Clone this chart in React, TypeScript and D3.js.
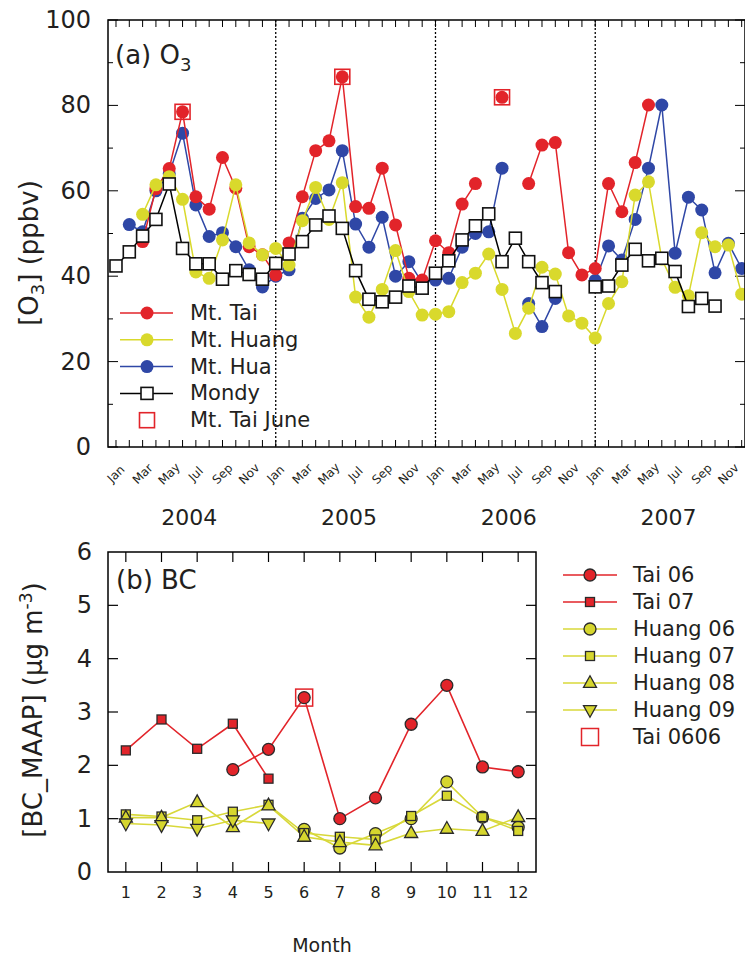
import React from "react";
import * as d3 from "d3";

// ---------- Panel (a): monthly O3, Jan 2004 – Dec 2007 ----------
const monthNames = ["Jan", "Feb", "Mar", "Apr", "May", "Jun", "Jul", "Aug", "Sep", "Oct", "Nov", "Dec"];
const years = ["2004", "2005", "2006", "2007"];

const taiO3: (number | null)[] = [
  null, null, 48.1, 60.5, 65.2, 78.5, 58.6, 55.7, 67.8, 60.6, 46.9, 45.0,
  40.3, 47.8, 58.6, 69.4, 71.7, 86.7, 56.3, 55.9, 65.3, 52.0, 39.5, 39.1,
  48.3, 45.5, 56.9, 61.7, null, 81.9, null, 61.7, 70.7, 71.3, 45.5, 40.3,
  41.8, 61.7, 55.1, 66.6, 80.1, null, null, null, null, null, null, null,
];
const huangO3: (number | null)[] = [
  null, null, 54.5, 61.4, 63.3, 58.0, 41.0, 39.5, 48.5, 61.4, 47.8, 45.0,
  46.5, 42.6, 53.0, 60.8, 53.3, 61.9, 35.1, 30.4, 36.9, 46.0, 36.4, 30.9,
  31.1, 31.7, 38.5, 40.7, 45.2, 36.9, 26.6, 32.5, 42.1, 40.5, 30.7, 29.0,
  25.5, 33.6, 38.7, 59.0, 62.1, 44.0, 37.4, 35.4, 50.2, 46.9, 47.3, 35.8,
];
const huaO3: (number | null)[] = [
  null, 52.1, 50.4, 60.0, 64.0, 73.5, 56.7, 49.3, 50.2, 46.9, 41.5, 37.5,
  40.0, 41.5, 53.6, 58.2, 60.2, 69.4, 52.2, 46.8, 53.8, 40.0, 43.4, 38.5,
  39.1, 39.5, 46.8, 50.0, 50.4, 65.3, null, 33.6, 28.2, 34.8, null, null,
  39.0, 47.1, 43.8, 53.3, 65.3, 80.1, 45.4, 58.5, 55.5, 40.8, 47.7, 41.8,
];
const mondyO3: (number | null)[] = [
  42.4, 45.7, 49.4, 53.3, 61.6, 46.5, 42.9, 42.9, 39.3, 41.3, 40.4, 39.3,
  43.0, 45.2, 48.1, 52.0, 54.1, 51.2, 41.3, 34.6, 34.0, 35.1, 37.7, 37.2,
  40.7, 43.6, 48.5, 51.8, 54.6, 43.4, 48.9, 43.4, 38.5, 36.4, null, null,
  37.5, 37.7, 42.6, 46.3, 43.6, 44.2, 41.1, 32.9, 34.8, 33.0, null, null,
];
// Month indices (0 = Jan 2004) of the Mt. Tai June values
const taiJuneIdx = [5, 17, 29];

// ---------- Panel (b): monthly BC ----------
const bcMonths = [1, 2, 3, 4, 5, 6, 7, 8, 9, 10, 11, 12];
const tai06: (number | null)[] = [null, null, null, 1.92, 2.30, 3.27, 1.00, 1.39, 2.77, 3.50, 1.97, 1.88];
const tai07: (number | null)[] = [2.28, 2.86, 2.31, 2.78, 1.75, null, null, null, null, null, null, null];
const huang06: (number | null)[] = [null, null, null, null, null, 0.80, 0.45, 0.72, 1.00, 1.69, 1.03, 0.84];
const huang07: (number | null)[] = [1.08, 1.04, 0.97, 1.13, 1.26, 0.73, 0.66, 0.61, 1.05, 1.43, 1.03, 0.77];
const huang08: (number | null)[] = [1.02, 1.02, 1.31, 0.84, 1.25, 0.66, 0.56, 0.50, 0.73, 0.81, 0.77, 1.03];
const huang09: (number | null)[] = [0.91, 0.88, 0.81, 0.97, 0.91, null, null, null, null, null, null, null];
const tai0606Month = 6;

const RED = "#e2242a";
const YEL = "#d9d92c";
const BLUE = "#2f47a6";
const INK = "#231f20";
const FONT = "'DejaVu Sans', Verdana, sans-serif";

type Marker = "circle" | "square" | "up" | "down";

function markerPath(kind: Marker, cx: number, cy: number, s: number): string {
  const h = s * 0.9;
  if (kind === "up") {
    return `M${cx},${cy - h * 0.62}L${cx + s / 2},${cy + h * 0.38}L${cx - s / 2},${cy + h * 0.38}Z`;
  }
  return `M${cx},${cy + h * 0.62}L${cx + s / 2},${cy - h * 0.38}L${cx - s / 2},${cy - h * 0.38}Z`;
}

function Mark({ kind, cx, cy, fill, stroke, size, sw }: { kind: Marker; cx: number; cy: number; fill: string; stroke: string; size: number; sw: number }) {
  if (kind === "circle") return <circle cx={cx} cy={cy} r={size / 2} fill={fill} stroke={stroke} strokeWidth={sw} />;
  if (kind === "square")
    return <rect x={cx - size / 2} y={cy - size / 2} width={size} height={size} fill={fill} stroke={stroke} strokeWidth={sw} />;
  return <path d={markerPath(kind, cx, cy, size)} fill={fill} stroke={stroke} strokeWidth={sw} strokeLinejoin="miter" />;
}

export default function App() {
  // ----- panel (a) scales -----
  const L = 108, R = 745, T = 20, B = 447;
  const x = d3.scaleLinear().domain([-0.6, 47.25]).range([L, R]);
  const y = d3.scaleLinear().domain([0, 100]).range([B, T]);
  const lineA = d3
    .line<number | null>()
    .defined((d) => d != null)
    .x((_, i) => x(i))
    .y((d) => y(d as number));

  const monthIdx = d3.range(48);
  const majorY = d3.range(0, 101, 20);
  const minorY = d3.range(10, 100, 20);

  const seriesA = [
    { name: "Mt. Hua", data: huaO3, color: BLUE },
    { name: "Mt. Tai", data: taiO3, color: RED },
    { name: "Mt. Huang", data: huangO3, color: YEL },
  ];

  const legendA = [
    { name: "Mt. Tai", color: RED, kind: "dot" },
    { name: "Mt. Huang", color: YEL, kind: "dot" },
    { name: "Mt. Hua", color: BLUE, kind: "dot" },
    { name: "Mondy", color: "#000", kind: "mondy" },
    { name: "Mt. Tai June", color: RED, kind: "box" },
  ];

  // ----- panel (b) scales -----
  const L2 = 108, R2 = 536, T2 = 552, B2 = 872;
  const xb = d3.scaleLinear().domain([0.5, 12.5]).range([L2, R2]);
  const yb = d3.scaleLinear().domain([0, 6]).range([B2, T2]);
  const lineB = d3
    .line<number | null>()
    .defined((d) => d != null)
    .x((_, i) => xb(bcMonths[i]))
    .y((d) => yb(d as number));

  const seriesB: { name: string; data: (number | null)[]; line: string; fill: string; kind: Marker; size: number }[] = [
    { name: "Huang 06", data: huang06, line: "#d8d83a", fill: "#d6d62e", kind: "circle", size: 12 },
    { name: "Huang 07", data: huang07, line: "#d8d83a", fill: "#d6d62e", kind: "square", size: 9 },
    { name: "Huang 08", data: huang08, line: "#d8d83a", fill: "#d6d62e", kind: "up", size: 13 },
    { name: "Huang 09", data: huang09, line: "#d8d83a", fill: "#d6d62e", kind: "down", size: 13 },
    { name: "Tai 06", data: tai06, line: RED, fill: RED, kind: "circle", size: 12 },
    { name: "Tai 07", data: tai07, line: RED, fill: RED, kind: "square", size: 9 },
  ];
  const legendOrder = ["Tai 06", "Tai 07", "Huang 06", "Huang 07", "Huang 08", "Huang 09"];

  return (
    <div style={{ position: "absolute", left: 0, top: 0 }}>
      <svg width={745} height={955} style={{ display: "block", background: "#fff" }} fontFamily={FONT}>
        {/* ================= Panel (a) ================= */}
        <g>
          {/* year separators */}
          {[12, 24, 36].map((i) => (
            <line key={i} x1={x(i)} x2={x(i)} y1={T} y2={B} stroke="#000" strokeWidth={1.3} strokeDasharray="2,2" />
          ))}

          {/* month ticks top and bottom */}
          {monthIdx.map((i) => (
            <g key={i}>
              <line x1={x(i)} x2={x(i)} y1={B} y2={B - 7} stroke="#000" strokeWidth={1} />
              <line x1={x(i)} x2={x(i)} y1={T} y2={T + 7} stroke="#000" strokeWidth={1} />
            </g>
          ))}
          {/* y ticks left and right */}
          {majorY.map((v) => (
            <g key={v}>
              <line x1={L} x2={L + 10} y1={y(v)} y2={y(v)} stroke="#000" strokeWidth={1} />
              <line x1={R} x2={R - 10} y1={y(v)} y2={y(v)} stroke="#000" strokeWidth={1} />
              <text x={91} y={y(v)} textAnchor="end" dominantBaseline="central" fontSize={24} fill={INK}>
                {v}
              </text>
            </g>
          ))}
          {minorY.map((v) => (
            <g key={v}>
              <line x1={L} x2={L + 5} y1={y(v)} y2={y(v)} stroke="#000" strokeWidth={1} />
              <line x1={R} x2={R - 5} y1={y(v)} y2={y(v)} stroke="#000" strokeWidth={1} />
            </g>
          ))}

          {/* month labels */}
          {monthIdx
            .filter((i) => i % 2 === 0)
            .map((i) => (
              <text
                key={i}
                transform={`translate(${x(i)},${474}) rotate(-45)`}
                textAnchor="middle"
                dominantBaseline="central"
                fontSize={12}
                fill={INK}
              >
                {monthNames[i % 12]}
              </text>
            ))}
          {years.map((yr, k) => (
            <text key={yr} x={x(5.5 + 12 * k)} y={525} textAnchor="middle" fontSize={22} fill={INK}>
              {yr}
            </text>
          ))}

          {/* series */}
          {seriesA.map((s) => (
            <g key={s.name}>
              <path d={lineA(s.data) || ""} fill="none" stroke={s.color} strokeWidth={1.5} />
              {s.data.map((d, i) =>
                d == null ? null : <circle key={i} cx={x(i)} cy={y(d)} r={6.5} fill={s.color} />
              )}
            </g>
          ))}
          <g>
            <path d={lineA(mondyO3) || ""} fill="none" stroke="#000" strokeWidth={1.5} />
            {mondyO3.map((d, i) =>
              d == null ? null : (
                <rect key={i} x={x(i) - 6} y={y(d) - 6} width={12} height={12} fill="#fff" stroke="#111" strokeWidth={1.6} />
              )
            )}
          </g>
          {taiJuneIdx.map((i) => (
            <rect
              key={i}
              x={x(i) - 7.5}
              y={y(taiO3[i] as number) - 7.5}
              width={15}
              height={15}
              fill="none"
              stroke={RED}
              strokeWidth={1.6}
            />
          ))}

          {/* title */}
          <text x={115} y={64} fontSize={26} fill={INK}>
            (a) O<tspan dy={7} fontSize={18}>3</tspan>
          </text>

          {/* legend */}
          {legendA.map((g, k) => {
            const ly = 313 + k * 26.8;
            return (
              <g key={g.name}>
                {g.kind !== "box" && <line x1={120} x2={173} y1={ly} y2={ly} stroke={g.color} strokeWidth={1.5} />}
                {g.kind === "dot" && <circle cx={147} cy={ly} r={6.5} fill={g.color} />}
                {g.kind === "mondy" && (
                  <rect x={141} y={ly - 6} width={12} height={12} fill="#fff" stroke="#111" strokeWidth={1.6} />
                )}
                {g.kind === "box" && (
                  <rect x={139.5} y={ly - 7.5} width={15} height={15} fill="none" stroke={RED} strokeWidth={1.6} />
                )}
                <text x={190} y={ly} dominantBaseline="central" fontSize={21} fill={INK}>
                  {g.name}
                </text>
              </g>
            );
          })}

          {/* y label */}
          <text transform={`translate(38,253) rotate(-90)`} textAnchor="middle" fontSize={26} fill={INK}>
            [O<tspan dy={6} fontSize={18}>3</tspan>
            <tspan dy={-6}>] (ppbv)</tspan>
          </text>

          <rect x={L} y={T} width={R - L} height={B - T} fill="none" stroke="#000" strokeWidth={1.5} />
        </g>

        {/* ================= Panel (b) ================= */}
        <g>
          {bcMonths.map((m) => (
            <g key={m}>
              <line x1={xb(m)} x2={xb(m)} y1={B2} y2={B2 - 10} stroke="#000" strokeWidth={1.2} />
              <line x1={xb(m)} x2={xb(m)} y1={T2} y2={T2 + 10} stroke="#000" strokeWidth={1.2} />
              <text x={xb(m)} y={898} textAnchor="middle" fontSize={16} fill={INK}>
                {m}
              </text>
            </g>
          ))}
          {d3.range(0, 7).map((v) => (
            <g key={v}>
              {v > 0 && v < 6 && (
                <>
                  <line x1={L2} x2={L2 + 10} y1={yb(v)} y2={yb(v)} stroke="#000" strokeWidth={1.2} />
                  <line x1={R2} x2={R2 - 10} y1={yb(v)} y2={yb(v)} stroke="#000" strokeWidth={1.2} />
                </>
              )}
              <text x={92} y={yb(v)} textAnchor="end" dominantBaseline="central" fontSize={24} fill={INK}>
                {v}
              </text>
            </g>
          ))}

          {seriesB.map((s) => (
            <path key={s.name} d={lineB(s.data) || ""} fill="none" stroke={s.line} strokeWidth={1.6} />
          ))}
          {seriesB.map((s) => (
            <g key={s.name + "m"}>
              {s.data.map((d, i) =>
                d == null ? null : (
                  <Mark key={i} kind={s.kind} cx={xb(bcMonths[i])} cy={yb(d)} fill={s.fill} stroke="#2a2a2a" size={s.size} sw={1.3} />
                )
              )}
            </g>
          ))}
          <rect
            x={xb(tai0606Month) - 8.5}
            y={yb(tai06[tai0606Month - 1] as number) - 8.5}
            width={17}
            height={17}
            fill="none"
            stroke={RED}
            strokeWidth={1.5}
          />

          <text x={116} y={589} fontSize={26} fill={INK}>
            (b) BC
          </text>

          <text transform={`translate(42,710) rotate(-90)`} textAnchor="middle" fontSize={26} fill={INK}>
            [BC_MAAP] (µg m<tspan dy={-10} fontSize={17}>-3</tspan>
            <tspan dy={10}>)</tspan>
          </text>
          <text x={(L2 + R2) / 2} y={952} textAnchor="middle" fontSize={19} fill={INK}>
            Month
          </text>

          {/* legend */}
          {legendOrder.map((name, k) => {
            const s = seriesB.find((q) => q.name === name)!;
            const ly = 575 + k * 27;
            return (
              <g key={name}>
                <line x1={563} x2={617} y1={ly} y2={ly} stroke={s.line} strokeWidth={1.6} />
                <Mark kind={s.kind} cx={590} cy={ly} fill={s.fill} stroke="#2a2a2a" size={s.size} sw={1.3} />
                <text x={633} y={ly} dominantBaseline="central" fontSize={21} fill={INK}>
                  {name}
                </text>
              </g>
            );
          })}
          <rect x={581.5} y={737 - 8.5} width={17} height={17} fill="none" stroke={RED} strokeWidth={1.5} />
          <text x={633} y={737} dominantBaseline="central" fontSize={21} fill={INK}>
            Tai 0606
          </text>

          <rect x={L2} y={T2} width={R2 - L2} height={B2 - T2} fill="none" stroke="#000" strokeWidth={1.5} />
        </g>
      </svg>
    </div>
  );
}
